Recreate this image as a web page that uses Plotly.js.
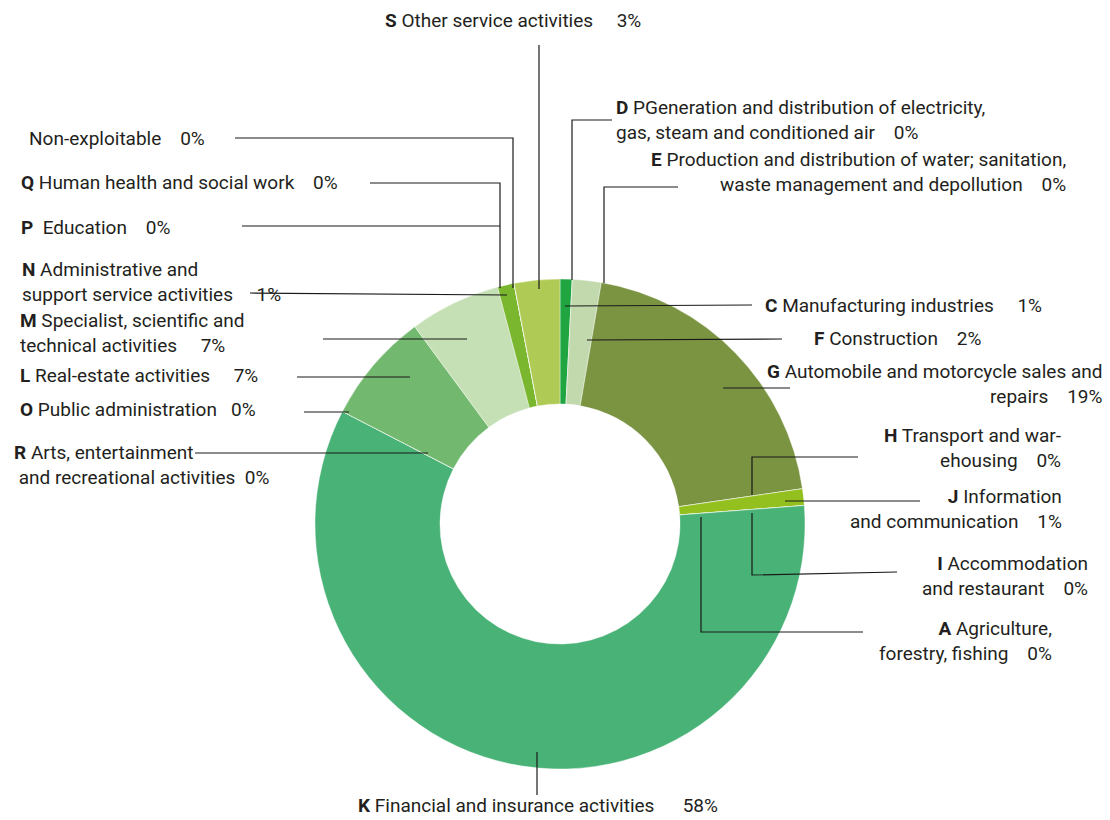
<!DOCTYPE html>
<html>
<head>
<meta charset="utf-8">
<script src="https://cdn.plot.ly/plotly-3.0.1.min.js"></script>
<style>html,body{margin:0;padding:0;background:#fff;}#chart{width:1110px;height:820px;}</style>
</head>
<body>
<div id="chart"></div>
<script>
// ---- data (slice order clockwise from 12 o'clock) ----
const codes = ['D','C','E','F','G','H','J','I','A','K','R','O','L','M','N','P','Q','','S'];
const categories = [
  'PGeneration and distribution of electricity,<br>gas, steam and conditioned air',
  'Manufacturing industries',
  'Production and distribution of water; sanitation,<br>waste management and depollution',
  'Construction',
  'Automobile and motorcycle sales and<br>repairs',
  'Transport and war-<br>ehousing',
  'Information<br>and communication',
  'Accommodation<br>and restaurant',
  'Agriculture,<br>forestry, fishing',
  'Financial and insurance activities',
  'Arts, entertainment<br>\u00A0and recreational activities',
  'Public administration',
  'Real-estate activities',
  'Specialist, scientific and<br>technical activities',
  'Administrative and<br>support service activities',
  '\u00A0Education',
  'Human health and social work',
  'Non-exploitable',
  'Other service activities'
];
const values = [0, 0.8, 0, 1.9, 20.0, 0, 1.1, 0, 0, 58.8, 0, 0, 7.3, 6.0, 1.1, 0, 0, 0, 3.0];
const pctLabels = ['0%','1%','0%','2%','19%','0%','1%','0%','0%','58%','0%','0%','7%','7%','1%','0%','0%','0%','3%'];
const colors = ['#20a540','#20a540','#c2d9ae','#c2d9ae','#7a9442','#93c01f','#93c01f','#49b276','#49b276','#49b276',
                '#72b96f','#72b96f','#72b96f','#c5e0b4','#7ab72f','#7ab72f','#7ab72f','#b0cb55','#b0cb55'];

// ---- label layout (pixel positions of label blocks and leader lines) ----
const W = 1110, H = 820;
const gaps = [4,5,4,4,4,4,4,4,4,6,2,3,5,5,5,4,4,4,5];
const labelPos = [ // [x, y, anchor]
  [614,120,'left'],[763,305,'left'],[1068,172,'right'],[812,339,'left'],[1105,384,'right'],
  [1063,448,'right'],[1064,509,'right'],[1090,576,'right'],[1054,641,'right'],[356,805,'left'],
  [12,465,'left'],[18,409,'left'],[18,376,'left'],[18,333,'left'],[20,282,'left'],
  [19,227,'left'],[19,183,'left'],[27,138,'left'],[383,20,'left']
];
const leaders = [
  [[612,120],[572,120],[572,280]],
  [[752,305],[565,306]],
  [[678,187],[604,187],[604,283]],
  [[782,339],[587,340]],
  [[790,388],[723,388]],
  [[858,457],[752,457],[752,495]],
  [[920,501],[785,501]],
  [[897,572],[752,575],[752,513]],
  [[863,632],[701,632],[701,517]],
  [[537,752],[537,795]],
  [[195,453],[428,453]],
  [[304,412],[349,412]],
  [[297,377],[410,377]],
  [[323,339],[467,339]],
  [[250,293],[507,295]],
  [[242,226],[500,226]],
  [[370,183],[500,183],[500,288]],
  [[235,138],[513,138],[513,288]],
  [[539,45],[539,289]]
];

const FONT = "Roboto, sans-serif";
const px = x => x / W, py = y => 1 - y / H;

const annotations = codes.map((c, i) => {
  const sp = '\u00A0'.repeat(gaps[i]);
  const head = c ? '<b>' + c + '</b> ' : '';
  return {
    text: head + categories[i] + sp + pctLabels[i],
    x: px(labelPos[i][0]), y: py(labelPos[i][1]), xref: 'paper', yref: 'paper',
    xanchor: labelPos[i][2], yanchor: 'middle', align: labelPos[i][2],
    showarrow: false, font: {family: FONT, size: 19, color: '#231f20'}
  };
});
const shapes = leaders.map(pts => ({
  type: 'path', xref: 'paper', yref: 'paper',
  path: pts.map((p, j) => (j ? 'L' : 'M') + px(p[0]) + ',' + py(p[1])).join(' '),
  line: {color: '#1a1a1a', width: 1.2}
}));

const cx = 560, cy = 524, R = 245;
const trace = {
  type: 'pie', labels: codes.map((c, i) => (c || 'NE') + i), values: values,
  sort: false, direction: 'clockwise', rotation: 0, hole: 0.49,
  marker: {colors: colors, line: {color: '#ffffff', width: 0.4}},
  textinfo: 'none', hoverinfo: 'none', showlegend: false,
  domain: {x: [px(cx - R), px(cx + R)], y: [py(cy + R), py(cy - R)]}
};
Plotly.newPlot('chart', [trace], {
  width: W, height: H, margin: {l: 0, r: 0, t: 0, b: 0},
  paper_bgcolor: '#ffffff', showlegend: false,
  annotations: annotations, shapes: shapes
}, {displayModeBar: false, staticPlot: true});
</script>
</body>
</html>
